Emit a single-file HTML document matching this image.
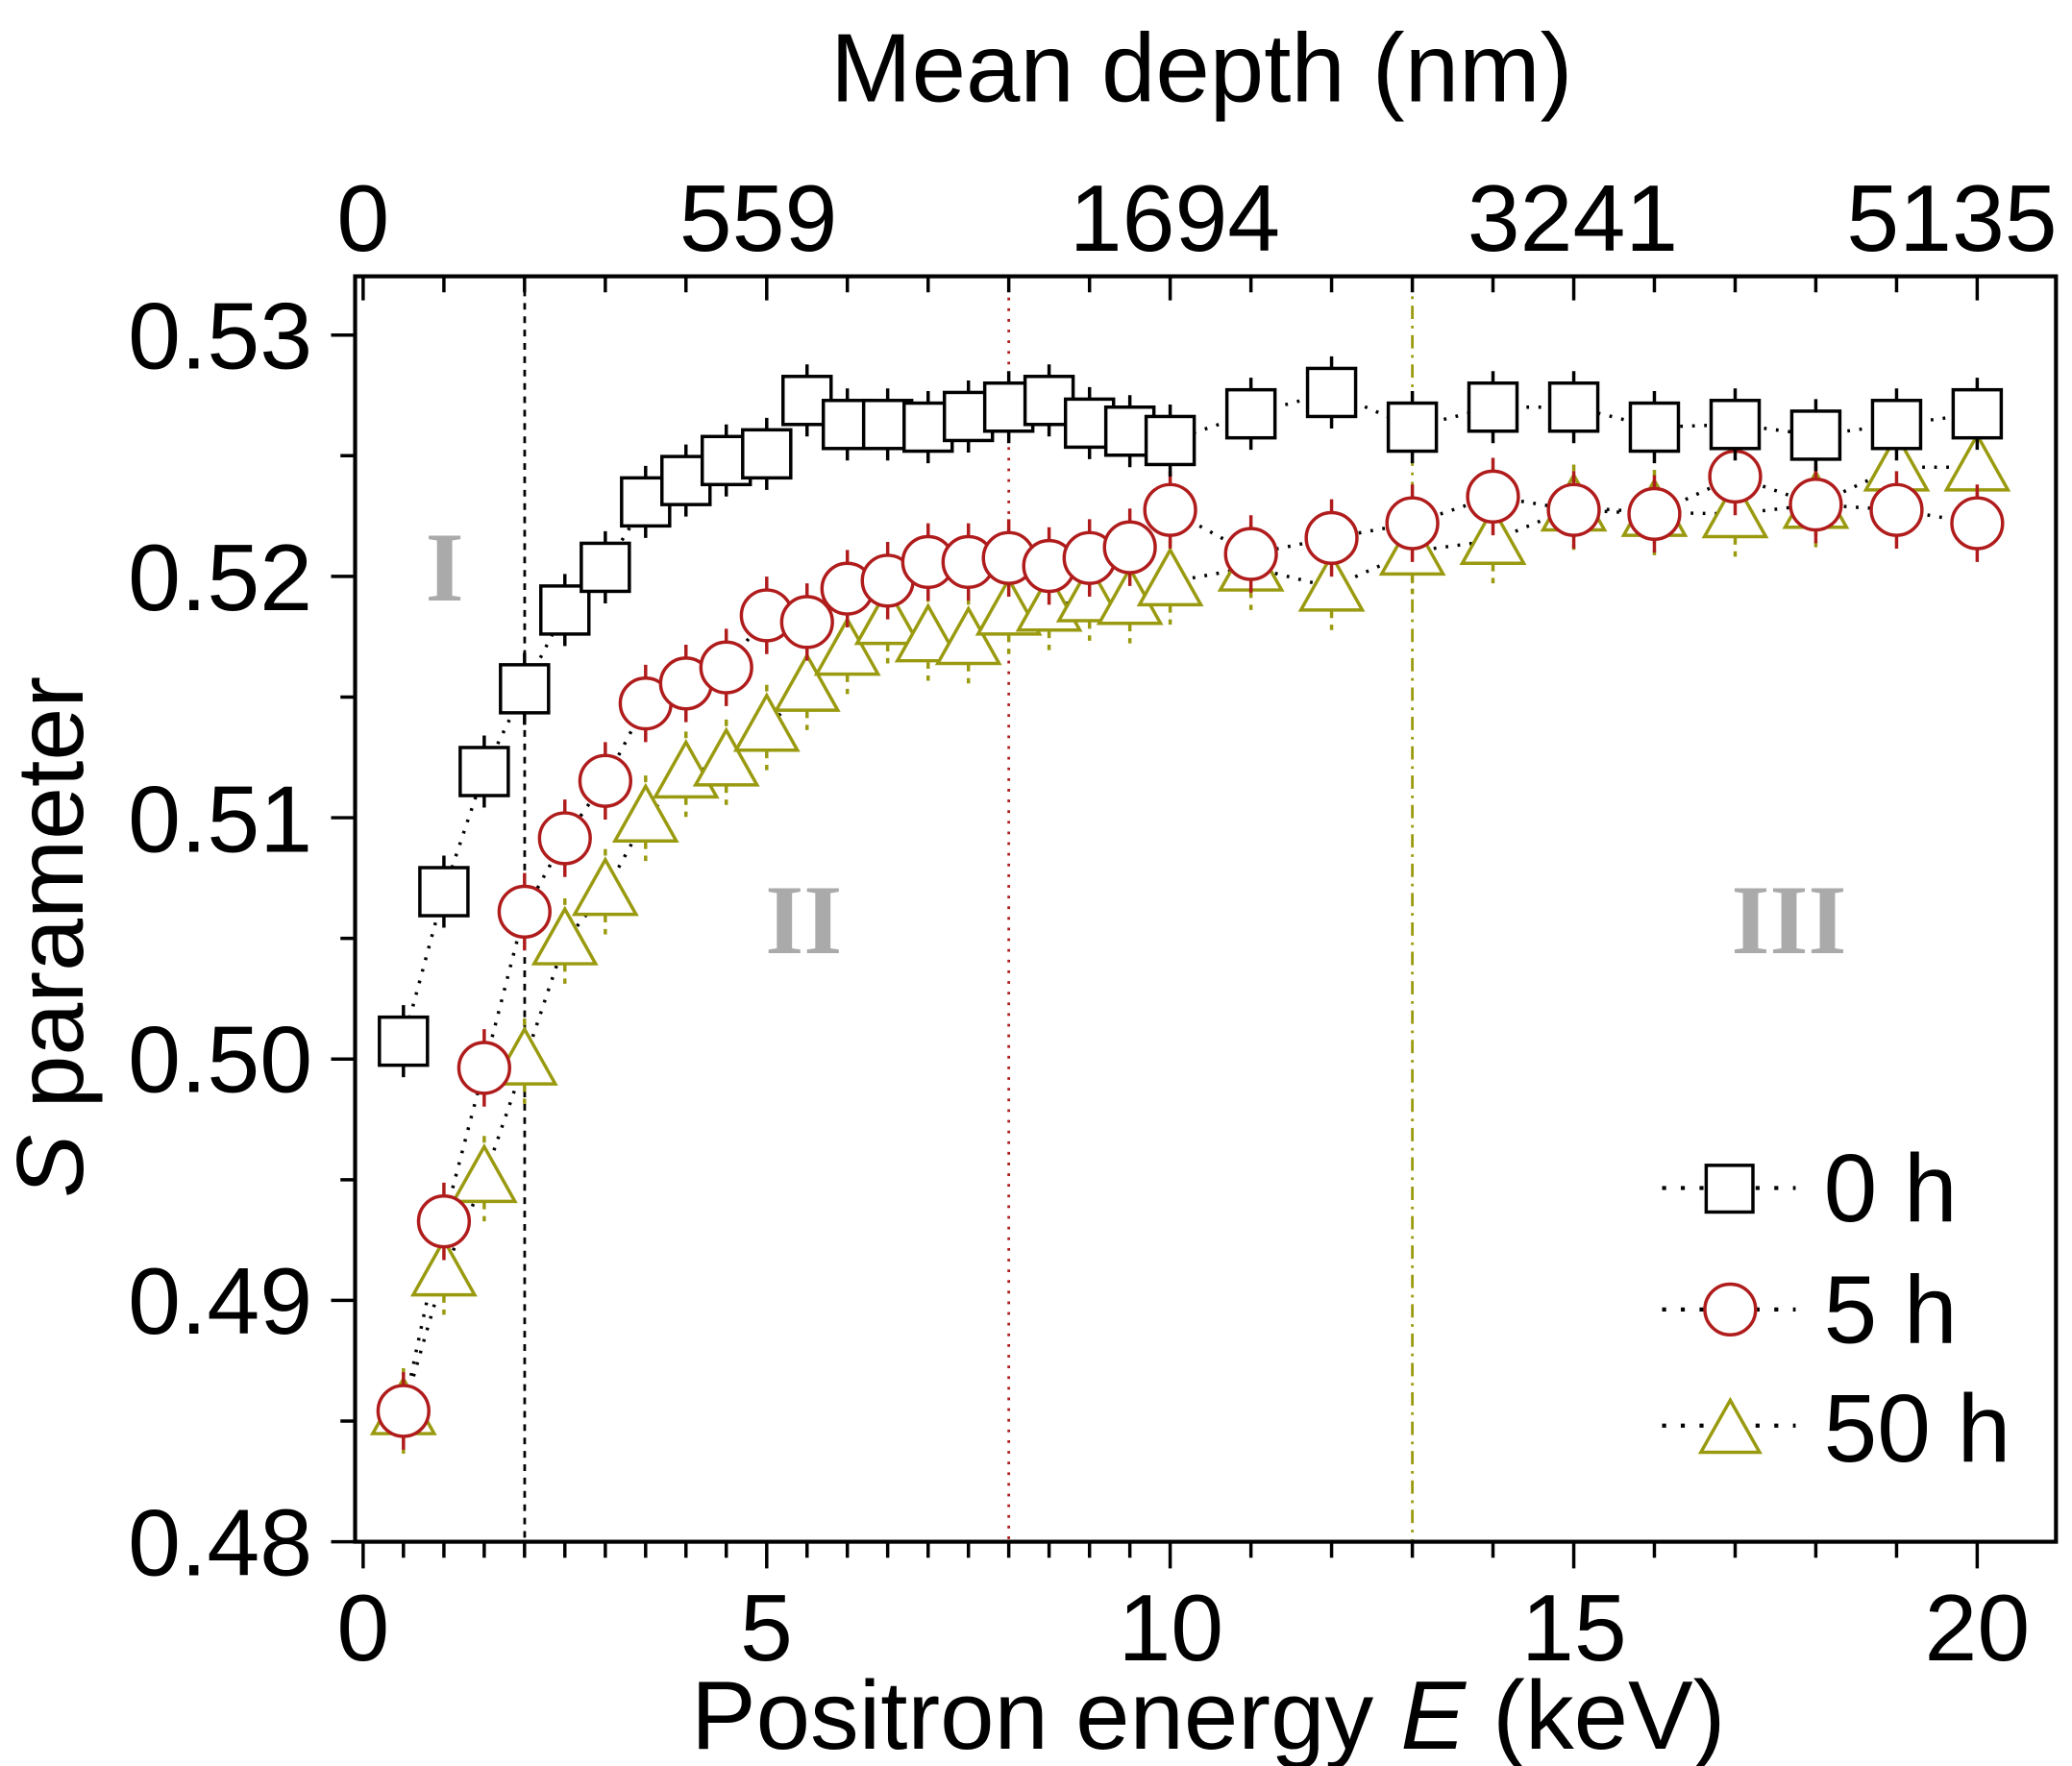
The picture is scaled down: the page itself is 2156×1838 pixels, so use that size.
<!DOCTYPE html>
<html><head><meta charset="utf-8"><style>
html,body{margin:0;padding:0;background:#fff;}
svg{display:block;}
text{font-family:"Liberation Sans",sans-serif;}
text.rn{font-family:"Liberation Serif",serif;font-weight:bold;}
</style></head><body>
<svg width="2156" height="1838" viewBox="0 0 1552 1323" preserveAspectRatio="none" xmlns="http://www.w3.org/2000/svg">
<defs>
<g id="sq"><line x1="0" y1="-27" x2="0" y2="27" stroke="#000" stroke-width="2.5"/><rect x="-18" y="-18" width="36" height="36" fill="#fff" stroke="#000" stroke-width="2.5"/></g>
<g id="ci"><line x1="0" y1="-29" x2="0" y2="29" stroke="#b01c1c" stroke-width="2.5"/><circle r="19" fill="#fff" stroke="#b01c1c" stroke-width="2.5"/></g>
<g id="tr"><line x1="0" y1="-32" x2="0" y2="32" stroke="#9a9a10" stroke-width="2.5" stroke-dasharray="5,5"/><polygon points="0,-24 -23,17 23,17" fill="#fff" stroke="#9a9a10" stroke-width="2.5"/></g>
</defs>
<line x1="393" y1="207" x2="393" y2="1155" stroke="#000" stroke-width="2" stroke-dasharray="5,5"/>
<line x1="755.6" y1="207" x2="755.6" y2="1155" stroke="#b01c1c" stroke-width="2" stroke-dasharray="2,6"/>
<line x1="1057.9" y1="207" x2="1057.9" y2="1155" stroke="#9a9a10" stroke-width="2" stroke-dasharray="10,5,2,5"/>
<g fill="#aaa" font-size="74" text-anchor="middle">
<text class="rn" x="333" y="450">I</text><text class="rn" x="602" y="714">II</text><text class="rn" x="1340" y="714">III</text></g>
<polyline fill="none" stroke="#000" stroke-width="2.5" stroke-dasharray="2,7" points="302.2,780 332.5,668 362.7,578 392.9,516 423.1,457 453.4,425 483.6,376 513.8,360 544,345 574.3,340 604.5,300 634.7,318 664.9,318 695.2,320 725.4,312 755.6,305 785.8,300 816.1,317 846.3,323 876.5,330 937,310 997.4,294 1057.9,320 1118.3,305 1178.8,305 1239.2,320 1299.7,318 1360.1,326 1420.6,318 1481,310"/>
<polyline fill="none" stroke="#000" stroke-width="2.5" stroke-dasharray="2,7" points="302.2,1057 332.5,915 362.7,800 392.9,683 423.1,628 453.4,585 483.6,527 513.8,512 544,500 574.3,461 604.5,466 634.7,441 664.9,435 695.2,421 725.4,421 755.6,418 785.8,424 816.1,418 846.3,410 876.5,382 937,415 997.4,403 1057.9,392 1118.3,372 1178.8,382 1239.2,385 1299.7,357 1360.1,378 1420.6,382 1481,392"/>
<polyline fill="none" stroke="#000" stroke-width="2.5" stroke-dasharray="2,7" points="302.2,1057 332.5,953 362.7,883 392.9,795 423.1,705 453.4,668 483.6,613 513.8,580 544,571 574.3,545 604.5,515 634.7,488 664.9,465 695.2,478 725.4,480 755.6,458 785.8,455 816.1,448 846.3,450 876.5,436 937,425 997.4,440 1057.9,413 1118.3,405 1178.8,380 1239.2,384 1299.7,385 1360.1,378 1420.6,350 1481,350"/>
<use href="#tr" x="302.2" y="1057"/><use href="#tr" x="332.5" y="953"/><use href="#tr" x="362.7" y="883"/><use href="#tr" x="392.9" y="795"/><use href="#tr" x="423.1" y="705"/><use href="#tr" x="453.4" y="668"/><use href="#tr" x="483.6" y="613"/><use href="#tr" x="513.8" y="580"/><use href="#tr" x="544" y="571"/><use href="#tr" x="574.3" y="545"/><use href="#tr" x="604.5" y="515"/><use href="#tr" x="634.7" y="488"/><use href="#tr" x="664.9" y="465"/><use href="#tr" x="695.2" y="478"/><use href="#tr" x="725.4" y="480"/><use href="#tr" x="755.6" y="458"/><use href="#tr" x="785.8" y="455"/><use href="#tr" x="816.1" y="448"/><use href="#tr" x="846.3" y="450"/><use href="#tr" x="876.5" y="436"/><use href="#tr" x="937" y="425"/><use href="#tr" x="997.4" y="440"/><use href="#tr" x="1057.9" y="413"/><use href="#tr" x="1118.3" y="405"/><use href="#tr" x="1178.8" y="380"/><use href="#tr" x="1239.2" y="384"/><use href="#tr" x="1299.7" y="385"/><use href="#tr" x="1360.1" y="378"/><use href="#tr" x="1420.6" y="350"/><use href="#tr" x="1481" y="350"/>
<use href="#ci" x="302.2" y="1057"/><use href="#ci" x="332.5" y="915"/><use href="#ci" x="362.7" y="800"/><use href="#ci" x="392.9" y="683"/><use href="#ci" x="423.1" y="628"/><use href="#ci" x="453.4" y="585"/><use href="#ci" x="483.6" y="527"/><use href="#ci" x="513.8" y="512"/><use href="#ci" x="544" y="500"/><use href="#ci" x="574.3" y="461"/><use href="#ci" x="604.5" y="466"/><use href="#ci" x="634.7" y="441"/><use href="#ci" x="664.9" y="435"/><use href="#ci" x="695.2" y="421"/><use href="#ci" x="725.4" y="421"/><use href="#ci" x="755.6" y="418"/><use href="#ci" x="785.8" y="424"/><use href="#ci" x="816.1" y="418"/><use href="#ci" x="846.3" y="410"/><use href="#ci" x="876.5" y="382"/><use href="#ci" x="937" y="415"/><use href="#ci" x="997.4" y="403"/><use href="#ci" x="1057.9" y="392"/><use href="#ci" x="1118.3" y="372"/><use href="#ci" x="1178.8" y="382"/><use href="#ci" x="1239.2" y="385"/><use href="#ci" x="1299.7" y="357"/><use href="#ci" x="1360.1" y="378"/><use href="#ci" x="1420.6" y="382"/><use href="#ci" x="1481" y="392"/>
<use href="#sq" x="302.2" y="780"/><use href="#sq" x="332.5" y="668"/><use href="#sq" x="362.7" y="578"/><use href="#sq" x="392.9" y="516"/><use href="#sq" x="423.1" y="457"/><use href="#sq" x="453.4" y="425"/><use href="#sq" x="483.6" y="376"/><use href="#sq" x="513.8" y="360"/><use href="#sq" x="544" y="345"/><use href="#sq" x="574.3" y="340"/><use href="#sq" x="604.5" y="300"/><use href="#sq" x="634.7" y="318"/><use href="#sq" x="664.9" y="318"/><use href="#sq" x="695.2" y="320"/><use href="#sq" x="725.4" y="312"/><use href="#sq" x="755.6" y="305"/><use href="#sq" x="785.8" y="300"/><use href="#sq" x="816.1" y="317"/><use href="#sq" x="846.3" y="323"/><use href="#sq" x="876.5" y="330"/><use href="#sq" x="937" y="310"/><use href="#sq" x="997.4" y="294"/><use href="#sq" x="1057.9" y="320"/><use href="#sq" x="1118.3" y="305"/><use href="#sq" x="1178.8" y="305"/><use href="#sq" x="1239.2" y="320"/><use href="#sq" x="1299.7" y="318"/><use href="#sq" x="1360.1" y="326"/><use href="#sq" x="1420.6" y="318"/><use href="#sq" x="1481" y="310"/>
<g stroke="#000" stroke-width="3" stroke-dasharray="3,11"><line x1="1245" y1="890" x2="1345" y2="890"/><line x1="1245" y1="981" x2="1345" y2="981"/><line x1="1245" y1="1068" x2="1345" y2="1068"/></g>
<rect x="1278" y="873" width="35" height="35" fill="#fff" stroke="#000" stroke-width="2.5"/>
<circle cx="1296" cy="981" r="19" fill="#fff" stroke="#b01c1c" stroke-width="2.5"/>
<polygon points="1296,1049 1274,1088 1318,1088" fill="#fff" stroke="#9a9a10" stroke-width="2.5"/>
<g font-size="72" fill="#000"><text x="1366" y="915">0 h</text><text x="1366" y="1006">5 h</text><text x="1366" y="1095">50 h</text></g>
<rect x="266" y="207" width="1274" height="948" fill="none" stroke="#000" stroke-width="3"/>
<g stroke="#000" stroke-width="2.5">
<path d="M272 1155v20M302.2 1155v12M332.5 1155v12M362.7 1155v12M392.9 1155v12M423.1 1155v12M453.4 1155v12M483.6 1155v12M513.8 1155v12M544 1155v12M574.3 1155v20M604.5 1155v12M634.7 1155v12M664.9 1155v12M695.2 1155v12M725.4 1155v12M755.6 1155v12M785.8 1155v12M816.1 1155v12M846.3 1155v12M876.5 1155v20M937 1155v12M997.4 1155v12M1057.9 1155v12M1118.3 1155v12M1178.8 1155v20M1239.2 1155v12M1299.7 1155v12M1360.1 1155v12M1420.6 1155v12M1481 1155v20"/>
<path d="M272 207v18M332.5 207v12M392.9 207v12M453.4 207v12M513.8 207v12M574.3 207v18M634.7 207v12M695.2 207v12M755.6 207v12M816.1 207v12M876.5 207v18M937 207v12M997.4 207v12M1057.9 207v12M1118.3 207v12M1178.8 207v18M1239.2 207v12M1299.7 207v12M1360.1 207v12M1420.6 207v12M1481 207v18"/>
<path d="M266 251h-18M266 341.4h-11M266 431.8h-18M266 522.2h-11M266 612.6h-18M266 703h-11M266 793.4h-18M266 883.8h-11M266 974.2h-18M266 1064.6h-11M266 1155h-18"/>
</g>
<g font-size="71" fill="#000" text-anchor="end">
<text x="234" y="276">0.53</text><text x="234" y="457">0.52</text><text x="234" y="638">0.51</text><text x="234" y="818">0.50</text><text x="234" y="999">0.49</text><text x="234" y="1180">0.48</text></g>
<g font-size="71" fill="#000" text-anchor="middle">
<text x="272" y="1244">0</text><text x="574" y="1244">5</text><text x="877" y="1244">10</text><text x="1179" y="1244">15</text><text x="1481" y="1244">20</text>
<text x="272" y="188">0</text><text x="568" y="188">559</text><text x="880" y="188">1694</text><text x="1178" y="188">3241</text><text x="1462" y="188">5135</text>
<text x="900" y="76" font-size="73">Mean depth (nm)</text>
<text x="905" y="1310" font-size="73">Positron energy <tspan font-style="italic">E</tspan> (keV)</text>
<text transform="translate(62,702) rotate(-90)" font-size="71"><tspan font-style="italic">S</tspan> parameter</text>
</g>
</svg>
</body></html>
